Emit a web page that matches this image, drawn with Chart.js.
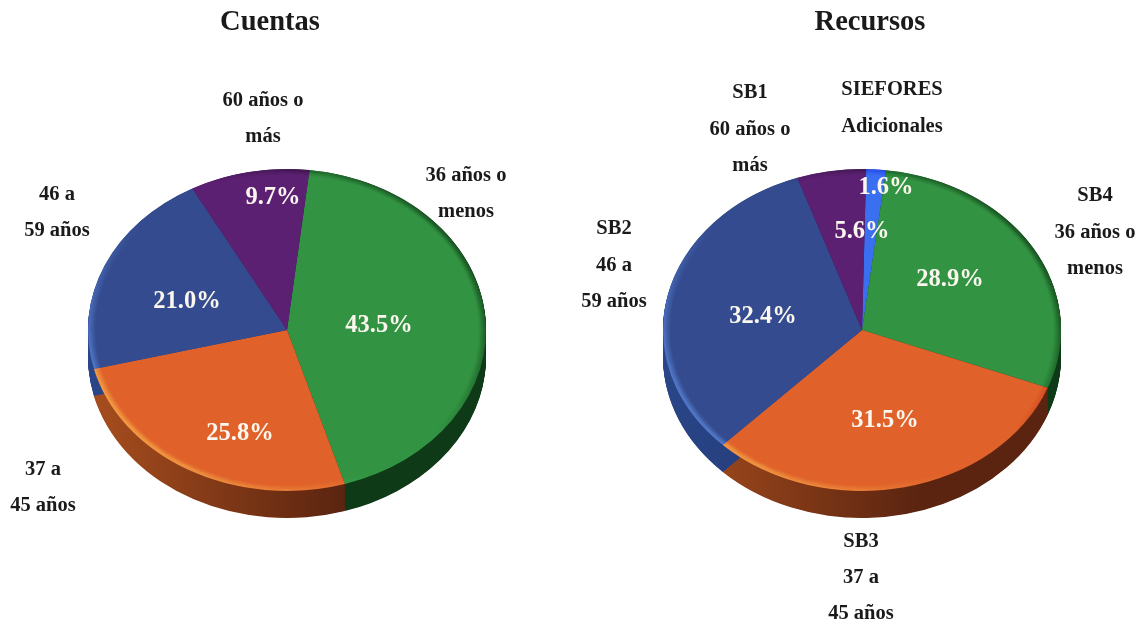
<!DOCTYPE html>
<html><head><meta charset="utf-8">
<style>html,body{margin:0;padding:0;background:#fff;width:1142px;height:626px;overflow:hidden}
canvas{position:absolute;top:0}</style>
<script src="https://cdn.jsdelivr.net/npm/chart.js@4"></script>
</head><body>
<canvas id="c1" style="left:0"></canvas>
<canvas id="c2" style="left:560px"></canvas>
<script>
const cuentasTitle = "Cuentas";
const cuentasValues = [43.5, 25.8, 21.0, 9.7];
const cuentasLabels = [["36 años o","menos"],["37 a","45 años"],["46 a","59 años"],["60 años o","más"]];
const recursosTitle = "Recursos";
const recursosValues = [1.6, 28.9, 31.5, 32.4, 5.6];
const recursosLabels = [["SIEFORES","Adicionales"],["SB4","36 años o","menos"],["SB3","37 a","45 años"],["SB2","46 a","59 años"],["SB1","60 años o","más"]];

const GREEN={top:"#329343",wallA:"#134a20",wallB:"#0e3a18"};
const ORANGE={top:"#E0622A",wallA:"#a84e1e",wallB:"#5a2410"};
const BLUE={top:"#344C8F",wallA:"#2a4688",wallB:"#1b2f66"};
const PURPLE={top:"#5C2073",wallA:"#3c1350",wallB:"#3c1350"};
const SKY={top:"#3A6FF0",wallA:"#2a50b0",wallB:"#2a50b0"};

const FONT='"Liberation Serif", serif';
const RX=199, RY=161, DEPTH=27;

function pie3d(id,left,width,title,values,labels,palette,rotation,cx,cy,catPos,pctPos){
  const plugin={
    id:"pie3d",
    beforeDatasetsDraw(chart){
      const ctx=chart.ctx, arcs=chart.getDatasetMeta(0).data, a0=arcs[0];
      const s=RY/a0.outerRadius;
      const k=RX/a0.outerRadius;
      ctx.save();
      ctx.translate(cx-left,cy);
      ctx.scale(k,s);
      ctx.translate(-a0.x,-a0.y);
      const R=a0.outerRadius;
      const depth=DEPTH/s;
      arcs.forEach((arc,i)=>{
        const g=ctx.createLinearGradient(arc.x-R,0,arc.x+R*0.3,0);
        g.addColorStop(0,palette[i].wallA);
        g.addColorStop(1,palette[i].wallB);
        ctx.fillStyle=g;
        for(let d=depth;d>0;d-=0.75){
          ctx.beginPath();
          ctx.moveTo(arc.x,arc.y+d);
          ctx.arc(arc.x,arc.y+d,R,arc.startAngle,arc.endAngle);
          ctx.closePath();
          ctx.fill();
        }
      });
    },
    afterDatasetsDraw(chart){
      const ctx=chart.ctx, a0=chart.getDatasetMeta(0).data[0], R=a0.outerRadius;
      const n=7;
      ctx.globalCompositeOperation="overlay";
      for(let i=0;i<n;i++){
        const a=0.55*(1-i/n);
        const g=ctx.createLinearGradient(a0.x-R*0.8,a0.y+R*0.6,a0.x+R*0.8,a0.y-R*0.6);
        g.addColorStop(0,`rgba(255,255,255,${a})`);
        g.addColorStop(0.4,"rgba(255,255,255,0)");
        g.addColorStop(0.6,"rgba(0,0,0,0)");
        g.addColorStop(1,`rgba(0,0,0,${a})`);
        ctx.strokeStyle=g;
        ctx.lineWidth=1.1;
        ctx.beginPath();
        ctx.arc(a0.x,a0.y,R-i-0.5,0,Math.PI*2);
        ctx.stroke();
      }
      ctx.globalCompositeOperation="source-over";
      ctx.restore();
      ctx.textAlign="center";
      ctx.textBaseline="middle";
      ctx.font=`bold 24.5px ${FONT}`;
      ctx.fillStyle="#fbf6ee";
      values.forEach((v,i)=>ctx.fillText(v.toFixed(1)+"%",pctPos[i][0]-left,pctPos[i][1]));
      ctx.font=`bold 20.5px ${FONT}`;
      ctx.fillStyle="#1a1a1a";
      labels.forEach((lines,i)=>lines.forEach((t,j)=>
        ctx.fillText(t,catPos[i][0]-left,catPos[i][1]+catPos[i][2]*j)));
    }
  };
  const cv=document.getElementById(id);
  cv.width=width; cv.height=626; cv.style.width=width+"px"; cv.style.height="626px";
  new Chart(cv,{
    type:"pie",
    data:{labels:labels.map(l=>l.join(" ")),datasets:[{
      data:values,
      backgroundColor:palette.map(p=>p.top),
      borderWidth:0,
      clip:false
    }]},
    options:{
      responsive:false,animation:false,rotation:rotation,
      layout:{padding:{top:0,bottom:126,left:0,right:0}},
      plugins:{
        legend:{display:false},tooltip:{enabled:false},
        title:{display:true,text:title,color:"#1a1a1a",
          font:{family:FONT,size:28.5,weight:"bold"},
          padding:{top:6,bottom:62}}
      }
    },
    plugins:[plugin]
  });
}

pie3d("c1",0,540,cuentasTitle,cuentasValues,cuentasLabels,[GREEN,ORANGE,BLUE,PURPLE],6.5,287,330,
  [[466,176,36],[43,470,36],[57,195,36],[263,101,36]],
  [[379,326],[240,434],[187,302],[273,198]]);
pie3d("c2",560,620,recursosTitle,recursosValues,recursosLabels,[SKY,GREEN,ORANGE,BLUE,PURPLE],1.2,862,330,
  [[892,90,37],[1095,196,36.5],[861,542,36],[614,229,36.5],[750,93,36.5]],
  [[886,188],[950,280],[885,421],[763,317],[862,232]]);
</script>
</body></html>
